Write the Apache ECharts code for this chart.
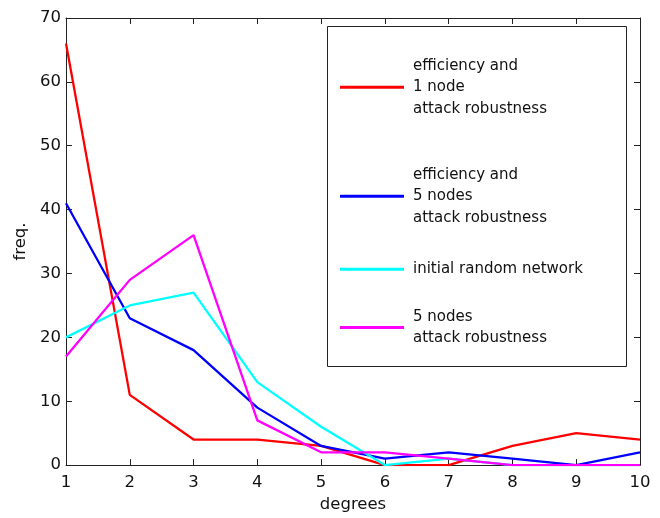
<!DOCTYPE html>
<html>
<head>
<meta charset="utf-8">
<script src="https://cdn.jsdelivr.net/npm/echarts@6/dist/echarts.min.js"></script>
<style>html,body{margin:0;padding:0;background:#fff}#c{width:660px;height:518px}</style>
</head>
<body>
<div id="c"></div>
<script>
const degrees = [1, 2, 3, 4, 5, 6, 7, 8, 9, 10];
const seriesNames = [
  'efficiency and\n1 node\nattack robustness',
  'efficiency and\n5 nodes\nattack robustness',
  'initial random network',
  '5 nodes\nattack robustness'
];
const eff1Node = [66, 11, 4, 4, 3, 0, 0, 3, 5, 4];
const eff5Nodes = [41, 23, 18, 9, 3, 1, 2, 1, 0, 2];
const initialRandom = [20, 25, 27, 13, 6, 0, 1, 0, 0, 0];
const nodes5Attack = [17, 29, 36, 7, 2, 2, 1, 0, 0, 0];
const colors = ['#ff0000', '#0000ff', '#00ffff', '#ff00ff'];
const yTicks = [0, 10, 20, 30, 40, 50, 60, 70];

const allValues = [eff1Node, eff5Nodes, initialRandom, nodes5Attack];
const FONT = 'DejaVu Sans';

const chart = echarts.init(document.getElementById('c'), null, {renderer: 'canvas'});

const axisCommon = {
  axisLine: {show: true, onZero: false, lineStyle: {color: '#222', width: 1}},
  axisTick: {show: true, inside: true, length: 6, lineStyle: {color: '#222', width: 1}},
  splitLine: {show: false}
};

const legendTops = [53, 162, 258.5, 304];
const legendTextPadTop = [4, 4, 0, 4];

option = {
  animation: false,
  backgroundColor: '#fff',
  grid: {left: 66, right: 20, top: 18, bottom: 46, containLabel: false},
  xAxis: [
    Object.assign({
      type: 'value', min: degrees[0], max: degrees[degrees.length - 1], interval: 1,
      position: 'bottom',
      name: 'degrees', nameLocation: 'middle', nameGap: 27,
      nameTextStyle: {fontFamily: FONT, fontSize: 16.5, color: '#111'},
      axisLabel: {fontFamily: FONT, fontSize: 16.5, color: '#111', margin: 9}
    }, axisCommon),
    Object.assign({
      type: 'value', min: degrees[0], max: degrees[degrees.length - 1], interval: 1,
      position: 'top', axisLabel: {show: false}
    }, axisCommon)
  ],
  yAxis: [
    Object.assign({
      type: 'value', min: yTicks[0], max: yTicks[yTicks.length - 1], interval: 10,
      position: 'left',
      name: 'freq.', nameLocation: 'middle', nameGap: 32, nameRotate: 90,
      nameTextStyle: {fontFamily: FONT, fontSize: 16.5, color: '#111'},
      axisLabel: {fontFamily: FONT, fontSize: 16.5, color: '#111', margin: 5}
    }, axisCommon),
    Object.assign({
      type: 'value', min: yTicks[0], max: yTicks[yTicks.length - 1], interval: 10,
      position: 'right', axisLabel: {show: false}
    }, axisCommon)
  ],
  legend: seriesNames.map((n, i) => ({
    data: [n],
    left: 340,
    top: legendTops[i],
    padding: 0,
    z: 20,
    icon: 'rect',
    itemWidth: 64,
    itemHeight: 3,
    itemGap: 8,
    selectedMode: false,
    textStyle: {fontFamily: FONT, fontSize: 15, color: '#111', lineHeight: 21.5, padding: [legendTextPadTop[i], 0, 0, 4]}
  })),
  graphic: [{
    type: 'rect',
    shape: {x: 327.5, y: 26.5, width: 299, height: 340},
    style: {fill: '#fff', stroke: '#222', lineWidth: 1},
    z: 5
  }],
  series: seriesNames.map((n, i) => ({
    name: n,
    type: 'line',
    data: degrees.map((d, j) => [d, allValues[i][j]]),
    symbol: 'none',
    showSymbol: false,
    color: colors[i],
    lineStyle: {color: colors[i], width: 2.3},
    itemStyle: {color: colors[i]},
    z: 2 + i
  }))
};
chart.setOption(option);
</script>
</body>
</html>
